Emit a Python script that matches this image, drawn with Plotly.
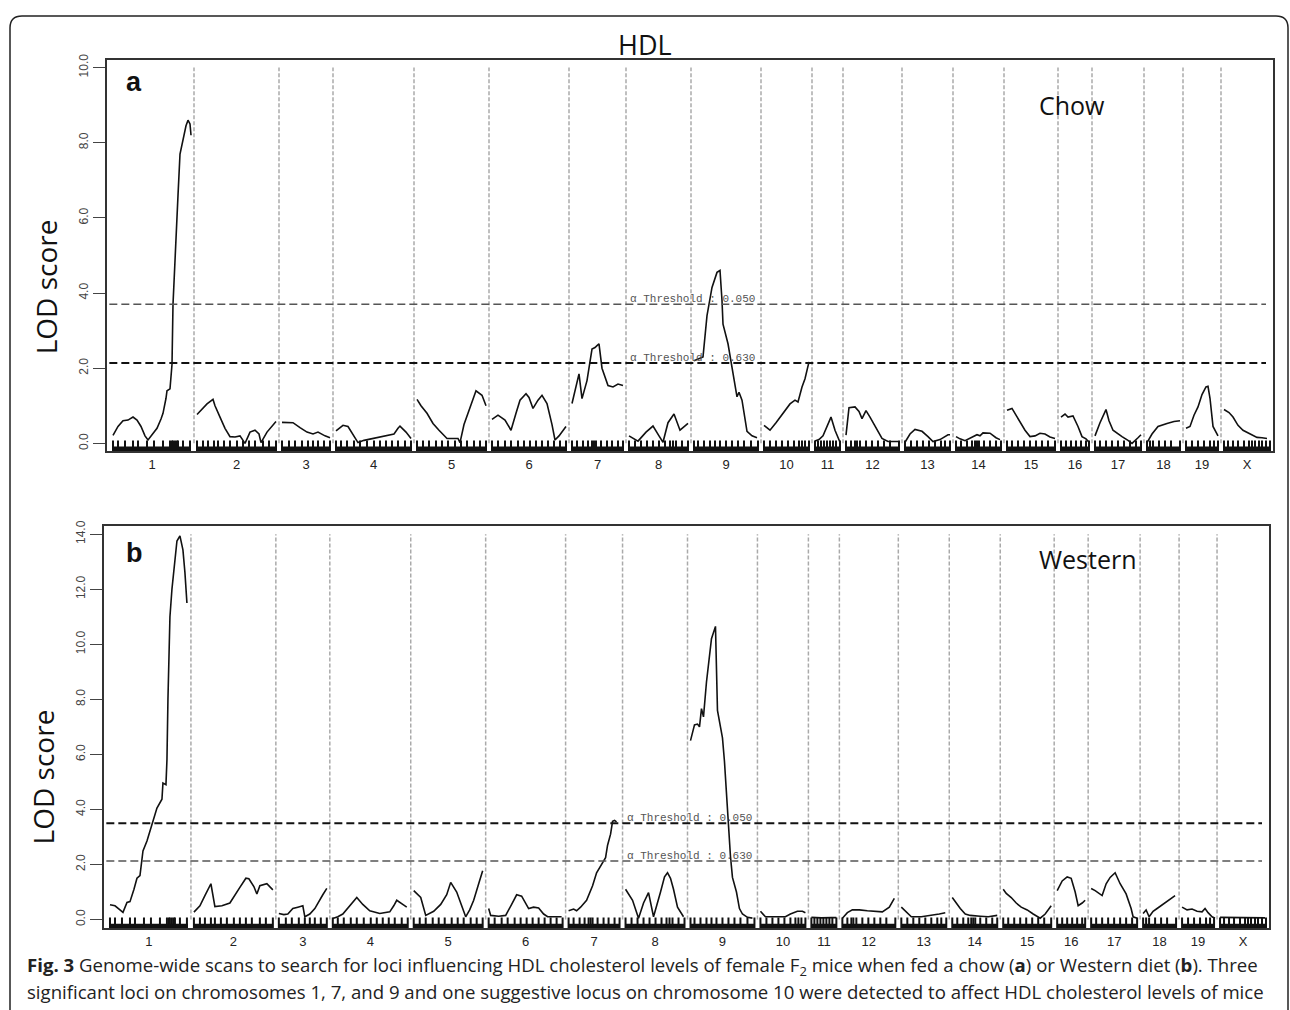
import numpy as np
import plotly.graph_objects as go

W, H = 1290, 1010

CHROMS = ["1", "2", "3", "4", "5", "6", "7", "8", "9", "10", "11", "12", "13", "14", "15", "16", "17", "18", "19", "X"]
CHR_LEN = [78, 79, 48, 75, 69, 74, 51, 59, 64, 45, 25, 53, 45, 45, 48, 28, 46, 33, 32, 46]
GAP = 6

# ---- Panel a (Chow) LOD profiles: positions (cM) and LOD per chromosome ----
chow_cm = [
    [0, 5, 10, 15, 20, 24, 28, 32, 35, 40, 44, 48, 50, 53, 54, 57, 59, 60, 62, 64, 65, 67, 70, 73, 75, 77, 78],
    [0, 5, 10, 16, 18, 23, 28, 33, 38, 43, 48, 53, 58, 62, 64, 70, 75, 79],
    [0, 5, 11, 18, 25, 31, 36, 43, 48],
    [0, 7, 12, 17, 22, 28, 35, 45, 52, 58, 62, 64, 70, 75],
    [0, 4, 10, 16, 22, 30, 41, 43, 47, 53, 59, 65, 69],
    [0, 6, 13, 19, 24, 28, 34, 37, 41, 46, 50, 55, 60, 63, 67, 74],
    [0, 4, 7, 10, 15, 20, 23, 25, 27, 30, 33, 36, 41, 46, 51],
    [0, 9, 17, 24, 30, 34, 39, 45, 51, 59],
    [0, 9, 13, 18, 23, 26, 28, 29, 34, 38, 43, 45, 48, 53, 58, 63],
    [0, 6, 12, 19, 26, 31, 34, 38, 41, 45],
    [0, 4, 8, 13, 16, 20, 25],
    [0, 3, 9, 13, 16, 20, 24, 30, 36, 42, 52],
    [0, 5, 10, 17, 23, 28, 35, 43, 45],
    [0, 4, 9, 15, 21, 24, 27, 34, 40, 44],
    [0, 5, 9, 13, 18, 23, 28, 33, 38, 43, 48],
    [0, 4, 7, 12, 17, 21, 25, 28],
    [0, 5, 11, 14, 18, 23, 27, 33, 37, 43, 46],
    [0, 5, 11, 16, 20, 27, 33],
    [0, 4, 8, 12, 16, 20, 22, 24, 27, 32],
    [0, 5, 9, 14, 19, 24, 28, 33, 38, 43],
]
chow_lod = [
    [0.21, 0.45, 0.6, 0.62, 0.7, 0.62, 0.45, 0.2, 0.09, 0.25, 0.4, 0.65, 0.8, 1.2, 1.4, 1.45, 2.1, 3.7, 5.0, 6.0, 6.6, 7.7, 8.1, 8.45, 8.6, 8.5, 8.2],
    [0.77, 0.9, 1.05, 1.17, 1.0, 0.7, 0.4, 0.18, 0.17, 0.2, 0.0, 0.3, 0.35, 0.25, 0.02, 0.3, 0.45, 0.58],
    [0.56, 0.56, 0.55, 0.42, 0.3, 0.25, 0.3, 0.2, 0.15],
    [0.33, 0.48, 0.45, 0.25, 0.02, 0.08, 0.12, 0.18, 0.2, 0.25, 0.4, 0.46, 0.3, 0.13],
    [1.17, 1.0, 0.8, 0.53, 0.35, 0.13, 0.13, 0.02, 0.5, 0.97, 1.4, 1.28, 1.0],
    [0.64, 0.75, 0.62, 0.35, 0.8, 1.15, 1.32, 1.22, 0.93, 1.15, 1.28, 1.06, 0.5, 0.09, 0.2, 0.45],
    [1.06, 1.5, 1.85, 1.19, 1.67, 2.51, 2.55, 2.6, 2.65, 2.0, 1.75, 1.54, 1.5, 1.58, 1.54],
    [0.2, 0.06, 0.3, 0.46, 0.2, 0.03, 0.55, 0.78, 0.35, 0.53],
    [2.2, 2.3, 3.4, 4.15, 4.55, 4.6, 3.8, 3.17, 2.65, 2.03, 1.24, 1.36, 1.15, 0.32, 0.2, 0.15],
    [0.48, 0.35, 0.55, 0.8, 1.05, 1.15, 1.1, 1.5, 1.72, 2.17],
    [0.06, 0.1, 0.2, 0.5, 0.7, 0.35, 0.03],
    [0.22, 0.95, 0.97, 0.85, 0.66, 0.87, 0.7, 0.4, 0.13, 0.05, 0.05],
    [0.03, 0.25, 0.37, 0.32, 0.18, 0.05, 0.1, 0.23, 0.23],
    [0.18, 0.12, 0.07, 0.15, 0.23, 0.2, 0.28, 0.27, 0.15, 0.1],
    [0.88, 0.93, 0.75, 0.58, 0.35, 0.18, 0.2, 0.27, 0.25, 0.17, 0.13],
    [0.7, 0.78, 0.7, 0.73, 0.45, 0.18, 0.12, 0.03],
    [0.2, 0.55, 0.9, 0.6, 0.35, 0.25, 0.18, 0.08, 0.0, 0.15, 0.23],
    [0.02, 0.25, 0.45, 0.5, 0.53, 0.58, 0.6],
    [0.4, 0.45, 0.75, 0.97, 1.3, 1.5, 1.52, 1.2, 0.45, 0.2],
    [0.9, 0.82, 0.7, 0.48, 0.35, 0.28, 0.22, 0.16, 0.15, 0.13],
]

# ---- Panel b (Western) ----
west_cm = [
    [0, 5, 10, 13, 17, 20, 24, 27, 30, 33, 37, 42, 47, 52, 53, 56, 57, 58, 60, 62, 64, 67, 70, 73, 75, 77],
    [0, 6, 11, 17, 21, 28, 36, 41, 46, 52, 55, 60, 63, 66, 70, 73, 79],
    [0, 5, 9, 14, 19, 24, 26, 31, 36, 40, 44, 48],
    [0, 5, 10, 17, 24, 30, 37, 47, 57, 61, 64, 70, 74],
    [0, 7, 12, 20, 27, 33, 37, 43, 48, 52, 56, 60, 65, 69],
    [0, 2, 10, 17, 23, 28, 33, 37, 40, 45, 50, 55, 59, 66, 73],
    [0, 5, 8, 12, 18, 24, 28, 33, 37, 39, 42, 44, 46, 48],
    [0, 7, 13, 18, 23, 28, 35, 39, 42, 45, 48, 52, 58],
    [0, 2, 4, 7, 9, 11, 13, 16, 21, 25, 26, 27, 30, 32, 34, 37, 40, 42, 46, 49, 52, 57, 62],
    [0, 5, 15, 25, 30, 37, 42, 45],
    [0, 10, 20, 25],
    [0, 5, 10, 17, 25, 33, 40, 47, 52],
    [0, 4, 10, 20, 30, 38, 44],
    [0, 4, 8, 13, 18, 28, 36, 45],
    [0, 3, 8, 13, 18, 24, 30, 37, 42, 48],
    [0, 5, 10, 14, 18, 21, 25, 28],
    [0, 4, 11, 15, 19, 24, 29, 35, 40, 42, 46],
    [0, 3, 6, 10, 14, 20, 26, 32],
    [0, 5, 10, 15, 20, 23, 26, 30, 33],
    [0, 10, 20, 30, 40, 45],
]
west_lod = [
    [0.54, 0.5, 0.35, 0.26, 0.62, 0.65, 1.1, 1.5, 1.6, 2.49, 2.85, 3.5, 4.05, 4.37, 4.96, 4.9, 5.8, 8.0, 11.0, 12.0, 12.7, 13.75, 13.94, 13.43, 12.6, 11.5],
    [0.27, 0.5, 0.87, 1.3, 0.47, 0.5, 0.6, 0.9, 1.17, 1.5, 1.48, 1.2, 0.93, 1.23, 1.28, 1.3, 1.08],
    [0.22, 0.18, 0.2, 0.4, 0.45, 0.5, 0.1, 0.2, 0.4, 0.67, 0.9, 1.13],
    [0.04, 0.1, 0.2, 0.5, 0.8, 0.55, 0.32, 0.22, 0.28, 0.5, 0.7, 0.55, 0.45],
    [1.05, 0.8, 0.15, 0.3, 0.55, 0.9, 1.35, 1.0, 0.5, 0.1, 0.35, 0.7, 1.3, 1.77],
    [0.4, 0.15, 0.12, 0.15, 0.55, 0.9, 0.85, 0.6, 0.4, 0.45, 0.42, 0.2, 0.1, 0.1, 0.1],
    [0.32, 0.38, 0.32, 0.45, 0.7, 1.23, 1.7, 2.0, 2.25, 2.7, 3.1, 3.57, 3.6, 3.55],
    [1.1, 0.7, 0.05, 0.6, 0.98, 0.1, 1.0, 1.55, 1.7, 1.5, 1.1, 0.45, 0.1],
    [6.5, 6.85, 7.07, 7.1, 7.0, 7.66, 7.36, 8.63, 10.2, 10.65, 9.0, 7.6, 7.0, 6.6, 5.74, 3.9, 2.3, 1.53, 1.0, 0.4, 0.2, 0.08, 0.05],
    [0.3, 0.1, 0.1, 0.1, 0.2, 0.3, 0.3, 0.25],
    [0.08, 0.06, 0.07, 0.07],
    [0.05, 0.25, 0.35, 0.35, 0.32, 0.3, 0.28, 0.45, 0.77],
    [0.45, 0.3, 0.1, 0.1, 0.15, 0.2, 0.25],
    [0.8, 0.6, 0.4, 0.2, 0.15, 0.12, 0.1, 0.15],
    [1.1, 0.95, 0.8, 0.6, 0.45, 0.35, 0.2, 0.05, 0.2, 0.5],
    [1.05, 1.4, 1.55, 1.5, 1.0, 0.5, 0.6, 0.7],
    [1.13, 1.05, 0.87, 1.3, 1.53, 1.7, 1.3, 0.93, 0.4, 0.1, 0.05],
    [0.22, 0.35, 0.1, 0.3, 0.4, 0.55, 0.7, 0.87],
    [0.45, 0.35, 0.38, 0.3, 0.28, 0.4, 0.25, 0.1, 0.05],
    [0.08, 0.07, 0.06, 0.07, 0.06, 0.06],
]

# genetic marker positions (cM) shown as the rug
marker_cm = [
    [0, 5, 12, 20, 25, 34, 41, 50, 57, 59, 60, 62, 64, 65, 70, 77],
    [0, 6, 11, 17, 21, 27, 33, 40, 46, 52, 58, 66, 72, 79],
    [0, 7, 13, 20, 26, 31, 36, 42, 48],
    [0, 5, 11, 18, 24, 31, 38, 44, 50, 56, 62, 69, 75],
    [0, 6, 12, 19, 25, 31, 38, 44, 50, 57, 63, 69],
    [0, 6, 13, 19, 26, 32, 38, 44, 50, 56, 62, 68, 74],
    [0, 5, 11, 16, 20, 22, 24, 29, 35, 40, 46, 51],
    [0, 6, 12, 18, 24, 30, 36, 41, 44, 47, 53, 59],
    [0, 4, 10, 16, 21, 26, 32, 38, 44, 50, 57, 64],
    [0, 6, 12, 18, 24, 30, 35, 38, 41, 45],
    [0, 3, 6, 9, 12, 15, 18, 21, 25],
    [0, 5, 9, 11, 14, 20, 26, 32, 38, 44, 53],
    [0, 6, 12, 18, 24, 30, 36, 40, 45],
    [0, 5, 11, 16, 19, 21, 23, 28, 34, 40, 45],
    [0, 5, 11, 17, 23, 29, 35, 41, 48],
    [0, 5, 10, 15, 20, 25, 28],
    [0, 5, 11, 17, 23, 29, 35, 41, 46],
    [0, 3, 6, 12, 18, 24, 33],
    [0, 6, 12, 18, 24, 28, 32],
    [0, 4, 9, 14, 20, 25, 28, 31, 35, 38, 42, 46],
]

CHOW_THR = [3.7, 2.14]
WEST_THR = [3.5, 2.13]
THR_TEXT = ["α Threshold : 0.050", "α Threshold : 0.630"]
THR_LABEL_X = 515

# ---------------- derived genome coordinates ----------------
lens = np.array(CHR_LEN, dtype=float)
offsets = np.concatenate([[0.0], np.cumsum(lens[:-1] + GAP)])
bounds = offsets[1:] - GAP / 2.0
mids = offsets + lens / 2.0
XR = [-GAP, offsets[-1] + lens[-1] + 3]


def genome_xy(cms, lods):
    xs, ys = [], []
    for i, (c, l) in enumerate(zip(cms, lods)):
        xs += [offsets[i] + v for v in c] + [None]
        ys += list(l) + [None]
    return xs, ys


fig = go.Figure()

panels = [
    dict(cm=chow_cm, lod=chow_lod, thr=CHOW_THR, xa="x", ya="y", ytop=10,
         thr_style=[("#555555", 1.5), ("#111111", 2.0)], band_y=-0.15, tick_y=-0.09),
    dict(cm=west_cm, lod=west_lod, thr=WEST_THR, xa="x2", ya="y2", ytop=14,
         thr_style=[("#111111", 2.0), ("#555555", 1.5)], band_y=-0.24, tick_y=-0.155),
]

shapes = []
annotations = []
for p in panels:
    # chromosome separators
    for b in bounds:
        shapes.append(dict(type="line", xref=p["xa"], yref=p["ya"], x0=b, x1=b, y0=0, y1=p["ytop"],
                           line=dict(color="#aaaaaa", width=1.5, dash="4px,2px"), layer="below"))
    # thresholds
    for (val, txt_, (col, wd)) in zip(p["thr"], THR_TEXT, p["thr_style"]):
        shapes.append(dict(type="line", xref=p["xa"] + " domain", yref=p["ya"], x0=0.002, x1=0.994,
                           y0=val, y1=val, line=dict(color=col, width=wd, dash="8px,4px")))
        annotations.append(dict(xref=p["xa"], yref=p["ya"], x=THR_LABEL_X, y=val, text=txt_,
                                showarrow=False, xanchor="left", yanchor="bottom", yshift=-3,
                                font=dict(family="Liberation Mono", size=11, color="#555555")))
    # rug band
    bx, by = [], []
    for i in range(len(CHROMS)):
        bx += [offsets[i], offsets[i] + lens[i], None]
        by += [p["band_y"], p["band_y"], None]
    fig.add_trace(go.Scatter(x=bx, y=by, mode="lines", line=dict(color="#111111", width=5),
                             xaxis=p["xa"], yaxis=p["ya"], hoverinfo="skip", showlegend=False))
    mx, my = [], []
    for i, ms in enumerate(marker_cm):
        mx += [offsets[i] + m for m in ms]
        my += [p["tick_y"]] * len(ms)
    fig.add_trace(go.Scatter(x=mx, y=my, mode="markers",
                             marker=dict(symbol="line-ns", size=9, line=dict(color="#111111", width=2)),
                             xaxis=p["xa"], yaxis=p["ya"], hoverinfo="skip", showlegend=False))
    # LOD curve
    xs, ys = genome_xy(p["cm"], p["lod"])
    fig.add_trace(go.Scatter(x=xs, y=ys, mode="lines", line=dict(color="#111111", width=1.6),
                             xaxis=p["xa"], yaxis=p["ya"], connectgaps=False, showlegend=False))


def px(x):
    return x / W


def py(y):
    return 1 - y / H


axis_common = dict(showgrid=False, zeroline=False, showline=True, mirror=True,
                   linecolor="#333333", linewidth=1.5)
xcommon = dict(axis_common, range=XR, tickmode="array", tickvals=list(mids), ticktext=CHROMS,
               ticks="", tickfont=dict(family="Liberation Sans", size=13, color="#222222"))
ytick = dict(tickangle=-90, ticks="outside", ticklen=12, tickcolor="#444444", tickwidth=1,
             tickfont=dict(family="Liberation Sans", size=12, color="#444444"))

fig.update_layout(
    width=W, height=H, margin=dict(l=0, r=0, t=0, b=0),
    paper_bgcolor="white", plot_bgcolor="white", showlegend=False,
    xaxis=dict(xcommon, domain=[px(107), px(1273)], anchor="y"),
    yaxis=dict(axis_common, domain=[py(448), py(54)], range=[-0.212, 10.21], anchor="x",
               tickmode="array", tickvals=[0, 2, 4, 6, 8, 10],
               ticktext=["0.0", "2.0", "4.0", "6.0", "8.0", "10.0"], **ytick),
    xaxis2=dict(xcommon, domain=[px(104), px(1269)], anchor="y2"),
    yaxis2=dict(axis_common, domain=[py(928), py(523)], range=[-0.325, 14.3], anchor="x2",
                tickmode="array", tickvals=[0, 2, 4, 6, 8, 10, 12, 14],
                ticktext=["0.0", "2.0", "4.0", "6.0", "8.0", "10.0", "12.0", "14.0"], **ytick),
)

# outer rounded frame (extends past bottom of the page)
frame = (f"M {px(10)},{py(1030)} L {px(10)},{py(22)} Q {px(10)},{py(10)} {px(22)},{py(10)} "
         f"L {px(1276)},{py(10)} Q {px(1288)},{py(10)} {px(1288)},{py(22)} L {px(1288)},{py(1030)}")
shapes.append(dict(type="path", xref="paper", yref="paper", path=frame,
                   line=dict(color="#222222", width=1.5)))


def txt(x, y, s, size, family="Open Sans", color="#111111", angle=0, xanchor="center"):
    annotations.append(dict(xref="paper", yref="paper", x=px(x), y=py(y), text=s, showarrow=False,
                            xanchor=xanchor, yanchor="middle", textangle=angle,
                            font=dict(family=family, size=size, color=color)))


txt(645, 39, "HDL", 27)
txt(134, 76, "<b>a</b>", 27, family="Liberation Sans")
txt(134, 550, "<b>b</b>", 27, family="Liberation Sans")
txt(1072, 100, "Chow", 25)
txt(1088, 556, "Western", 25)
txt(46, 283, "LOD score", 28, angle=-90)
txt(43, 776, "LOD score", 28, angle=-90)
txt(25, 966, "<b>Fig. 3</b> Genome-wide scans to search for loci influencing HDL cholesterol levels of female F<sub>2</sub> mice when fed a chow (<b>a</b>) or Western diet (<b>b</b>). Three",
    18.6, color="#222222", xanchor="left")
txt(25, 991, "significant loci on chromosomes 1, 7, and 9 and one suggestive locus on chromosome 10 were detected to affect HDL cholesterol levels of mice",
    18.6, color="#222222", xanchor="left")

fig.update_layout(shapes=shapes, annotations=annotations)
fig.write_html("out.html")
